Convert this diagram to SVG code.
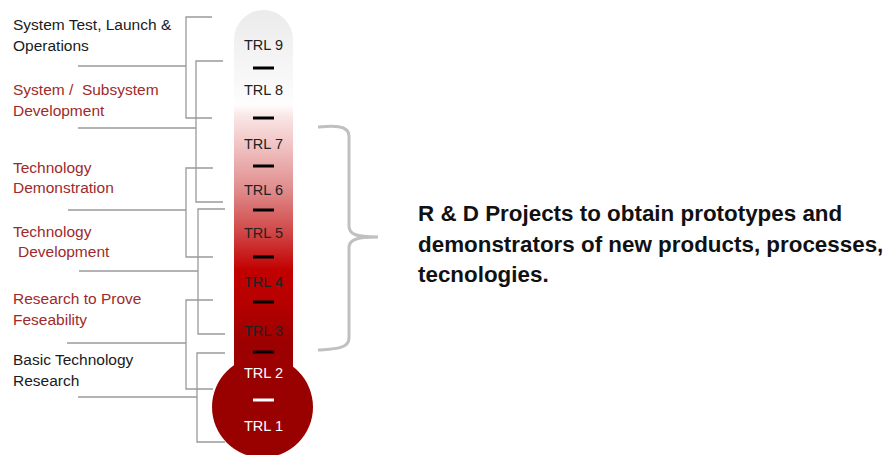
<svg xmlns="http://www.w3.org/2000/svg" width="889" height="455" viewBox="0 0 889 455">
<style>
  .lbl { font-family: "Liberation Sans", Arial, sans-serif; font-size: 15.5px; }
  .blk { fill: #1a1a22; }
  .red { fill: #9e2a2b; }
  .trl { font-family: "Liberation Sans", Arial, sans-serif; font-size: 14.5px; text-anchor: middle; fill: #222; }
  .trlw { fill: #ffffff; }
  .brk { fill: none; stroke: #9a9a9a; stroke-width: 1.3; }
  .tick { stroke: #000; stroke-width: 3; }
  .tickw { stroke: #fff; }
  .big { font-family: "Liberation Sans", Arial, sans-serif; font-size: 22.4px; font-weight: bold; fill: #111; }
</style>
<defs>
  <linearGradient id="tube" gradientUnits="userSpaceOnUse" x1="0" y1="10" x2="0" y2="400">
    <stop offset="0" stop-color="#ebebeb"/>
    <stop offset="0.244" stop-color="#fdfdfd"/>
    <stop offset="0.272" stop-color="#fae6e6"/>
    <stop offset="0.341" stop-color="#f2c6c6"/>
    <stop offset="0.459" stop-color="#e08d8d"/>
    <stop offset="0.574" stop-color="#d04444"/>
    <stop offset="0.667" stop-color="#c20000"/>
    <stop offset="0.744" stop-color="#b80000"/>
    <stop offset="0.846" stop-color="#9e0000"/>
    <stop offset="1" stop-color="#990000"/>
  </linearGradient>
</defs>

<g id="connectors">
  <path class="brk" d="M212,17 H186 V118 H212 M78,66 H186"/>
  <path class="brk" d="M223,61 H196 V202 H223 M78,128 H196"/>
  <path class="brk" d="M213,168 H186 V257 H213 M68,210 H186"/>
  <path class="brk" d="M225,209 H198 V334 H225 M79,271 H198"/>
  <path class="brk" d="M213,300 H186 V389 H213 M67,343 H186"/>
  <path class="brk" d="M225,353 H197 V442 H225 M78,397 H197"/>
</g>

<g id="thermometer">
  <circle cx="262.5" cy="407" r="50.5" fill="#990000"/>
  <path d="M234,39.5 A29.5,29.5 0 0 1 293,39.5 V375 H234 Z" fill="url(#tube)"/>
  <line class="tick" x1="253" y1="68" x2="274" y2="68"/>
  <line class="tick" x1="253" y1="118" x2="274" y2="118"/>
  <line class="tick" x1="253" y1="166" x2="274" y2="166"/>
  <line class="tick" x1="253" y1="210" x2="274" y2="210"/>
  <line class="tick" x1="253" y1="257" x2="274" y2="257"/>
  <line class="tick" x1="253" y1="302" x2="274" y2="302"/>
  <line class="tick" x1="253" y1="352" x2="274" y2="352"/>
  <line class="tick tickw" x1="253" y1="400" x2="274" y2="400"/>
  <text class="trl" x="263.5" y="50">TRL 9</text>
  <text class="trl" x="263.5" y="95">TRL 8</text>
  <text class="trl" x="263.5" y="149">TRL 7</text>
  <text class="trl" x="263.5" y="195">TRL 6</text>
  <text class="trl" x="263.5" y="238">TRL 5</text>
  <text class="trl" x="263.5" y="287">TRL 4</text>
  <text class="trl" x="263.5" y="336">TRL 3</text>
  <text class="trl trlw" x="263.5" y="378">TRL 2</text>
  <text class="trl trlw" x="263.5" y="431">TRL 1</text>
</g>

<g id="label-trl9">
  <text class="lbl blk" x="13" y="30">System Test, Launch &amp;</text>
  <text class="lbl blk" x="13" y="51">Operations</text>
</g>
<g id="label-trl8">
  <text class="lbl red" x="13" y="95" xml:space="preserve">System /  Subsystem</text>
  <text class="lbl red" x="13" y="116">Development</text>
</g>
<g id="label-trl7">
  <text class="lbl red" x="13" y="173">Technology</text>
  <text class="lbl red" x="13" y="193">Demonstration</text>
</g>
<g id="label-trl6">
  <text class="lbl red" x="13" y="237">Technology</text>
  <text class="lbl red" x="18" y="257">Development</text>
</g>
<g id="label-trl4">
  <text class="lbl red" x="13" y="304">Research to Prove</text>
  <text class="lbl red" x="13" y="325">Feseability</text>
</g>
<g id="label-trl2">
  <text class="lbl blk" x="13" y="365">Basic Technology</text>
  <text class="lbl blk" x="13" y="386">Research</text>
</g>

<g id="brace">
  <path d="M318,127 C330,126 349,124 349,136 V226 C349,234 355,237 378,237 C355,237 349,240 349,248 V338 C349,350 330,349 318,350" fill="none" stroke="#c0c0c0" stroke-width="3"/>
</g>

<g id="rd-text">
  <text class="big" x="418" y="221">R &amp; D Projects to obtain prototypes and</text>
  <text class="big" x="418" y="252">demonstrators of new products, processes,</text>
  <text class="big" x="418" y="282">tecnologies.</text>
</g>
</svg>
